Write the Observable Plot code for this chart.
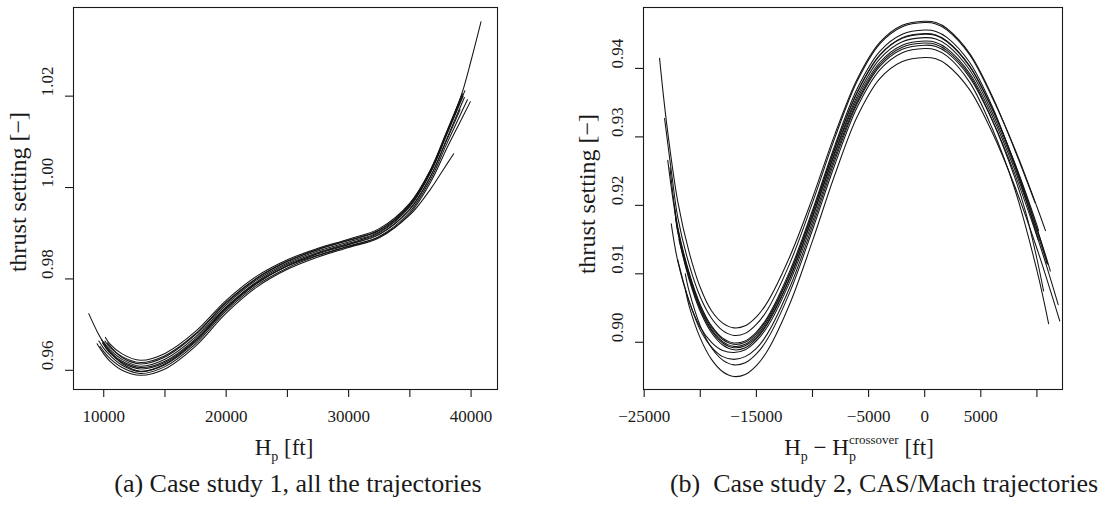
<!DOCTYPE html>
<html><head><meta charset="utf-8">
<script src="https://cdn.jsdelivr.net/npm/d3@7"></script>
<script src="https://cdn.jsdelivr.net/npm/@observablehq/plot@0.6"></script>
<style>
body{margin:0;background:#fff;}
#wrap{position:relative;width:1109px;height:507px;overflow:hidden;background:#fff;font-family:"Liberation Serif","Times New Roman",serif;}
.panel{position:absolute;top:0;}
.cap{position:absolute;top:471px;font-size:26px;line-height:1;white-space:pre;color:#1a1a1a;transform:translateX(-50%);}
</style></head><body><div id="wrap"></div>
<script>
// ---------- Panel (a): Case study 1, thrust setting vs Hp ----------
const xTicksA = [10000, 15000, 20000, 25000, 30000, 35000, 40000];
const xLabelsA = [10000, 20000, 30000, 40000];
const yTicksA = [0.96, 0.98, 1.00, 1.02];
const a01 = [[8775,0.9724],[9500,0.9683],[10000,0.9660],[10500,0.9641],[11500,0.9615],[13000,0.9598],[15000,0.9614],[17500,0.9665],[20000,0.9737],[22500,0.9794],[25000,0.9832],[27500,0.9858],[30000,0.9878],[32500,0.9901],[35000,0.9958],[36700,1.0033],[38000,1.0117],[39262,1.0207],[40000,1.0278],[40813,1.0363]];
const a02 = [[10136,0.9672],[10500,0.9658],[11500,0.9636],[13000,0.9622],[15000,0.9637],[17500,0.9685],[20000,0.9753],[22500,0.9806],[25000,0.9842],[27500,0.9867],[30000,0.9887],[32500,0.9910],[35000,0.9966],[36700,1.0040],[38000,1.0122],[39262,1.0203]];
const a03 = [[9456,0.9658],[10000,0.9636],[10500,0.9620],[11500,0.9600],[13000,0.9589],[15000,0.9603],[17500,0.9653],[20000,0.9725],[22500,0.9782],[25000,0.9821],[27500,0.9848],[30000,0.9869],[32500,0.9890],[35000,0.9943],[36700,1.0012],[38000,1.0085],[39000,1.0138],[39942,1.0188]];
const a04 = [[9600,0.9664],[10000,0.9648],[10500,0.9633],[11500,0.9611],[13000,0.9597],[15000,0.9612],[17500,0.9662],[20000,0.9734],[22500,0.9790],[25000,0.9829],[27500,0.9855],[30000,0.9875],[32500,0.9897],[35000,0.9952],[36700,1.0025],[38000,1.0106],[39452,1.0197]];
const a05 = [[9800,0.9668],[10500,0.9641],[11500,0.9620],[13000,0.9606],[15000,0.9620],[17500,0.9669],[20000,0.9739],[22500,0.9792],[25000,0.9828],[27500,0.9852],[30000,0.9871],[32500,0.9892],[35000,0.9940],[36700,0.9997],[37700,1.0038],[38581,1.0074]];
const a06 = [[10000,0.9662],[10500,0.9645],[11500,0.9624],[13000,0.9609],[15000,0.9624],[17500,0.9673],[20000,0.9743],[22500,0.9798],[25000,0.9835],[27500,0.9861],[30000,0.9881],[32500,0.9903],[35000,0.9960],[36700,1.0034],[38000,1.0115],[39350,1.0200]];
const a07 = [[10300,0.9660],[11500,0.9628],[13000,0.9614],[15000,0.9629],[17500,0.9678],[20000,0.9747],[22500,0.9801],[25000,0.9838],[27500,0.9864],[30000,0.9884],[32500,0.9906],[35000,0.9962],[36700,1.0036],[38000,1.0118],[39500,1.0212]];
const a08 = [[9700,0.9652],[10000,0.9641],[10500,0.9626],[11500,0.9606],[13000,0.9593],[15000,0.9608],[17500,0.9658],[20000,0.9730],[22500,0.9786],[25000,0.9824],[27500,0.9851],[30000,0.9872],[32500,0.9893],[35000,0.9947],[36700,1.0018],[38000,1.0095],[39700,1.0192]];
const a09 = [[10100,0.9664],[10500,0.9650],[11500,0.9630],[13000,0.9617],[15000,0.9632],[17500,0.9680],[20000,0.9749],[22500,0.9802],[25000,0.9839],[27500,0.9865],[30000,0.9885],[32500,0.9907],[35000,0.9964],[36700,1.0038],[38000,1.0120],[39300,1.0205]];
const a10 = [[9900,0.9660],[10500,0.9638],[11500,0.9617],[13000,0.9603],[15000,0.9617],[17500,0.9666],[20000,0.9736],[22500,0.9791],[25000,0.9829],[27500,0.9856],[30000,0.9876],[32500,0.9898],[35000,0.9953],[36700,1.0025],[38000,1.0103],[39100,1.0170]];

// ---------- Panel (b): Case study 2, thrust setting vs Hp - Hp_crossover ----------
const xTicksB = [-25000, -20000, -15000, -10000, -5000, 0, 5000, 10000];
const xLabelsB = [-25000, -15000, -5000, 0, 5000];
const yTicksB = [0.90, 0.91, 0.92, 0.93, 0.94];
const b01 = [[-23630,0.9415],[-23000,0.9320],[-22000,0.9205],[-21000,0.9132],[-20000,0.9080],[-19000,0.9046],[-18000,0.9028],[-17000,0.9021],[-16000,0.9024],[-15000,0.9037],[-14000,0.9059],[-12000,0.9126],[-10000,0.9211],[-8000,0.9304],[-6000,0.9385],[-4000,0.9438],[-2000,0.9463],[0,0.9469],[1000,0.9467],[2000,0.9458],[4000,0.9422],[6000,0.9360],[8000,0.9282],[9830,0.9204]];
const b02 = [[-23183,0.9327],[-22500,0.9240],[-22000,0.9182],[-21000,0.9114],[-20000,0.9066],[-19000,0.9035],[-18000,0.9017],[-17000,0.9010],[-16000,0.9013],[-15000,0.9026],[-14000,0.9048],[-12000,0.9116],[-10000,0.9204],[-8000,0.9299],[-6000,0.9382],[-4000,0.9436],[-2000,0.9461],[0,0.9467],[1000,0.9465],[2000,0.9456],[4000,0.9420],[6000,0.9358],[8000,0.9284],[10000,0.9198],[10764,0.9163]];
const b03 = [[-22700,0.9255],[-22000,0.9168],[-21000,0.9102],[-20000,0.9055],[-19000,0.9024],[-18000,0.9006],[-17000,0.8999],[-16000,0.9002],[-15000,0.9015],[-14000,0.9037],[-12000,0.9105],[-10000,0.9193],[-8000,0.9288],[-6000,0.9371],[-4000,0.9425],[-2000,0.9450],[0,0.9456],[1000,0.9454],[2000,0.9445],[4000,0.9409],[6000,0.9345],[8000,0.9260],[9000,0.9210],[10113,0.9150]];
const b04 = [[-22300,0.9197],[-22000,0.9162],[-21000,0.9097],[-20000,0.9050],[-19000,0.9019],[-18000,0.9001],[-17000,0.8994],[-16000,0.8997],[-15000,0.9010],[-14000,0.9032],[-12000,0.9100],[-10000,0.9188],[-8000,0.9283],[-6000,0.9366],[-4000,0.9420],[-2000,0.9445],[0,0.9451],[1000,0.9449],[2000,0.9440],[4000,0.9404],[6000,0.9342],[8000,0.9262],[10000,0.9166],[10963,0.9114]];
const b05 = [[-21900,0.9150],[-21000,0.9092],[-20000,0.9045],[-19000,0.9014],[-18000,0.8996],[-17000,0.8989],[-16000,0.8992],[-15000,0.9005],[-14000,0.9027],[-12000,0.9094],[-10000,0.9183],[-8000,0.9278],[-6000,0.9360],[-4000,0.9414],[-2000,0.9439],[0,0.9445],[1000,0.9443],[2000,0.9434],[4000,0.9398],[6000,0.9336],[8000,0.9258],[10000,0.9166],[11000,0.9115],[11200,0.9104]];
const b06 = [[-22587,0.9173],[-22000,0.9118],[-21000,0.9060],[-20000,0.9022],[-19000,0.9000],[-18000,0.8988],[-17000,0.8985],[-16000,0.8989],[-15000,0.9002],[-14000,0.9023],[-12000,0.9089],[-10000,0.9176],[-8000,0.9271],[-6000,0.9352],[-4000,0.9406],[-2000,0.9431],[0,0.9437],[1000,0.9435],[2000,0.9426],[4000,0.9390],[6000,0.9325],[8000,0.9242],[9000,0.9190],[10000,0.9122],[10594,0.9075]];
const b07 = [[-22021,0.9121],[-21000,0.9060],[-20000,0.9018],[-19000,0.8993],[-18000,0.8979],[-17000,0.8975],[-16000,0.8979],[-15000,0.8991],[-14000,0.9013],[-12000,0.9081],[-10000,0.9170],[-8000,0.9266],[-6000,0.9349],[-4000,0.9403],[-2000,0.9428],[0,0.9434],[1000,0.9432],[2000,0.9423],[4000,0.9387],[6000,0.9325],[8000,0.9247],[10000,0.9155],[11000,0.9104],[11898,0.9055]];
const b08 = [[-21336,0.9100],[-21000,0.9075],[-20000,0.9024],[-19000,0.8992],[-18000,0.8974],[-17000,0.8967],[-16000,0.8970],[-15000,0.8983],[-14000,0.9005],[-12000,0.9074],[-10000,0.9164],[-8000,0.9260],[-6000,0.9344],[-4000,0.9398],[-2000,0.9423],[0,0.9429],[1000,0.9427],[2000,0.9418],[4000,0.9380],[6000,0.9313],[8000,0.9225],[10000,0.9105],[11047,0.9027]];
const b09 = [[-21300,0.9075],[-21000,0.9053],[-20000,0.9006],[-19000,0.8975],[-18000,0.8957],[-17000,0.8950],[-16000,0.8953],[-15000,0.8966],[-14000,0.8988],[-12000,0.9057],[-10000,0.9148],[-8000,0.9245],[-6000,0.9330],[-4000,0.9385],[-2000,0.9410],[0,0.9416],[1000,0.9414],[2000,0.9405],[4000,0.9369],[6000,0.9307],[8000,0.9229],[10000,0.9137],[11000,0.9086],[12040,0.9031]];
const b10 = [[-22900,0.9266],[-22000,0.9165],[-21000,0.9100],[-20000,0.9053],[-19000,0.9022],[-18000,0.9004],[-17000,0.8997],[-16000,0.9000],[-15000,0.9013],[-14000,0.9035],[-12000,0.9101],[-10000,0.9189],[-8000,0.9284],[-6000,0.9365],[-4000,0.9419],[-2000,0.9444],[0,0.9450],[1000,0.9448],[2000,0.9439],[4000,0.9403],[6000,0.9341],[8000,0.9263],[10000,0.9171],[10150,0.9163]];
const b11 = [[-22200,0.9182],[-22000,0.9160],[-21000,0.9095],[-20000,0.9048],[-19000,0.9017],[-18000,0.8999],[-17000,0.8992],[-16000,0.8995],[-15000,0.9007],[-14000,0.9029],[-12000,0.9095],[-10000,0.9182],[-8000,0.9276],[-6000,0.9356],[-4000,0.9409],[-2000,0.9434],[0,0.9440],[1000,0.9438],[2000,0.9429],[4000,0.9393],[6000,0.9331],[8000,0.9253],[10000,0.9161],[10900,0.9115]];

const yLabel = "thrust setting [\u2212]";
const captionA = "(a) Case study 1, all the trajectories";
const captionB = "(b)  Case study 2, CAS/Mach trajectories";

const toRows = (list) => list.flatMap((c, i) => c.map(([x, y]) => ({id: i, x, y})));
const rowsA = toRows([a01,a02,a03,a04,a05,a06,a07,a08,a09,a10]);
const rowsB = toRows([b01,b02,b03,b04,b05,b06,b07,b08,b09,b10,b11]);

const FONT = "Liberation Serif, Times New Roman, serif";
const INK = "#1a1a1a";
const fmtMinus = d => (d < 0 ? "\u2212" + Math.abs(d) : String(d));

function panel({rows, width, height, margin, xDomain, yDomain, xTicks, xLabels, yTicks}) {
  return Plot.plot({
    width, height,
    marginLeft: margin[0], marginRight: margin[1], marginTop: margin[2], marginBottom: margin[3],
    x: {domain: xDomain},
    y: {domain: yDomain},
    style: {fontFamily: FONT, fontSize: "17px", color: INK, background: "#fff", overflow: "visible"},
    marks: [
      Plot.line(rows, {x: "x", y: "y", z: "id", curve: "catmull-rom", stroke: "#141414", strokeWidth: 1.05}),
      Plot.frame({stroke: INK, strokeWidth: 1.1}),
      Plot.axisX({ticks: xTicks, tickSize: 8, tickPadding: 12, strokeWidth: 1.1,
        tickFormat: d => xLabels.includes(d) ? fmtMinus(d) : "", label: null, fontSize: 17}),
      Plot.axisY({ticks: yTicks, tickSize: 8, strokeWidth: 1.1, tickFormat: () => "", label: null}),
      Plot.text(yTicks, {y: d => d, frameAnchor: "left", dx: -26, rotate: -90,
        text: d => d.toFixed(2), fontSize: 17, fill: INK})
    ]
  });
}

const wrap = document.getElementById("wrap");

// Panel (a)
const svgA = panel({rows: rowsA, width: 555, height: 462, margin: [73, 58, 7, 73],
  xDomain: [7531, 42157], yDomain: [0.9558, 1.0394], xTicks: xTicksA, xLabels: xLabelsA, yTicks: yTicksA});
const divA = document.createElement("div"); divA.className = "panel"; divA.style.left = "0px";
divA.appendChild(svgA); wrap.appendChild(divA);

// Panel (b)
const svgB = panel({rows: rowsB, width: 554, height: 462, margin: [88, 47, 7, 73],
  xDomain: [-25060, 12280], yDomain: [0.8931, 0.9489], xTicks: xTicksB, xLabels: xLabelsB, yTicks: yTicksB});
const divB = document.createElement("div"); divB.className = "panel"; divB.style.left = "555px";
divB.appendChild(svgB); wrap.appendChild(divB);

// Axis titles
function yTitle(svg, x, y) {
  d3.select(svg).append("text").attr("transform", `translate(${x},${y}) rotate(-90)`)
    .attr("text-anchor", "middle").attr("dy", "0.35em").attr("font-size", 24).attr("font-family", FONT).attr("fill", INK)
    .text(yLabel);
}
yTitle(svgA, 18, 192);
yTitle(svgB, 32, 194);

// x title (a): H_p [ft]
{
  const t = d3.select(svgA).append("text").attr("x", 284).attr("y", 455)
    .attr("text-anchor", "middle").attr("font-size", 23).attr("font-family", FONT).attr("fill", INK);
  t.append("tspan").text("H");
  t.append("tspan").attr("font-size", 14).attr("dy", 6).text("p");
  t.append("tspan").attr("dy", -6).text(" [ft]");
}
// x title (b): H_p − H_p^crossover [ft]
{
  const t = d3.select(svgB).append("text").attr("x", 304).attr("y", 455)
    .attr("text-anchor", "middle").attr("font-size", 23).attr("font-family", FONT).attr("fill", INK);
  t.append("tspan").text("H");
  t.append("tspan").attr("font-size", 14).attr("dy", 6).text("p");
  t.append("tspan").attr("dy", -6).text(" \u2212 H");
  t.append("tspan").attr("font-size", 14).attr("dy", 6).text("p");
  t.append("tspan").attr("font-size", 13).attr("dx", -7).attr("dy", -17).text("crossover");
  t.append("tspan").attr("dy", 11).text(" [ft]");
}

// Captions
function caption(text, cx) {
  const c = document.createElement("div"); c.className = "cap"; c.style.left = cx + "px";
  c.textContent = text; wrap.appendChild(c);
}
caption(captionA, 298);
caption(captionB, 884);
</script></body></html>
